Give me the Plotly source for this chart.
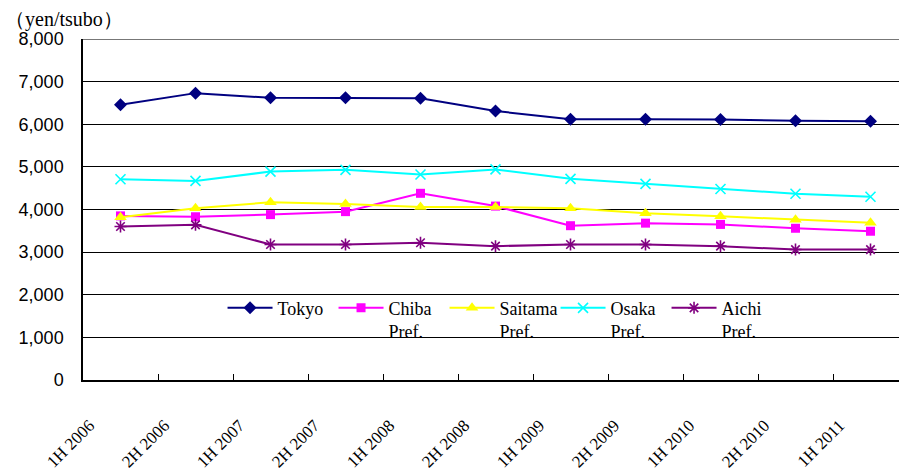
import plotly.graph_objects as go

# Half-year periods (category axis)
periods = ["1H 2006", "2H 2006", "1H 2007", "2H 2007", "1H 2008", "2H 2008",
           "1H 2009", "2H 2009", "1H 2010", "2H 2010", "1H 2011"]

# Average rent, yen per tsubo
tokyo = [6460, 6730, 6620, 6620, 6610, 6310, 6120, 6120, 6110, 6080, 6070]
chiba = [3850, 3830, 3880, 3950, 4380, 4080, 3620, 3680, 3650, 3560, 3490]
saitama = [3820, 4030, 4170, 4130, 4060, 4060, 4030, 3910, 3840, 3760, 3690]
osaka = [4710, 4670, 4890, 4930, 4820, 4940, 4720, 4600, 4480, 4370, 4300]
aichi = [3600, 3640, 3180, 3180, 3220, 3140, 3180, 3180, 3140, 3060, 3060]

y_ticks = [0, 1000, 2000, 3000, 4000, 5000, 6000, 7000, 8000]

series = [
    ("Tokyo", tokyo, "#000080", dict(symbol="diamond", size=10)),
    ("Chiba<br>Pref.", chiba, "#FF00FF", dict(symbol="square", size=9)),
    ("Saitama<br>Pref.", saitama, "#FFFF00", dict(symbol="triangle-up", size=11)),
    ("Osaka<br>Pref.", osaka, "#00FFFF", dict(symbol="x-thin", size=10,
                                             line=dict(width=1.6, color="#00FFFF"))),
    ("Aichi<br>Pref.", aichi, "#800080", dict(symbol="asterisk", size=10,
                                             line=dict(width=1.6, color="#800080"))),
]

SERIF = "Liberation Serif"
SANS = "Liberation Sans"

fig = go.Figure()
for name, vals, color, marker in series:
    fig.add_trace(go.Scatter(
        x=periods, y=vals, name=name, mode="lines+markers",
        line=dict(color=color, width=2),
        marker=dict(color=color, **marker),
    ))

fig.update_layout(
    width=899, height=472,
    margin=dict(l=83, r=0, t=39, b=92, autoexpand=False),
    paper_bgcolor="white", plot_bgcolor="white",
    showlegend=True,
    legend=dict(
        orientation="h", x=0.171, xanchor="left", y=0.265, yanchor="top",
        font=dict(family=SERIF, size=18, color="black"),
        bgcolor="rgba(0,0,0,0)", borderwidth=0,
        entrywidth=51, entrywidthmode="pixels", itemwidth=45,
        valign="top", tracegroupgap=0,
    ),
    annotations=[dict(
        text="（yen/tsubo）", x=0, y=1, xref="paper", yref="paper",
        xanchor="left", yanchor="bottom", showarrow=False,
        font=dict(family=SERIF, size=20, color="black"),
        xshift=-80, yshift=6,
    )],
    shapes=[dict(type="line", xref="paper", yref="y", x0=0, x1=1, y0=8000, y1=8000,
                 line=dict(color="#777777", width=2), layer="above")],
)

fig.update_xaxes(
    type="category", range=[-0.5, 10.38], automargin=False,
    tickson="boundaries", ticks="inside", ticklen=6, tickcolor="black",
    showline=True, linecolor="black", linewidth=1.5,
    showgrid=False, tickangle=-45,
    ticklabelshift=-31, ticklabelstandoff=27,
    tickfont=dict(family=SERIF, size=17, color="black"),
)
fig.update_yaxes(
    range=[0, 8000], tickvals=y_ticks, tickformat=",", automargin=False,
    showgrid=True, gridcolor="black", gridwidth=1,
    showline=True, linecolor="black", linewidth=1.5,
    zeroline=False, ticks="", ticklabelstandoff=14,
    tickfont=dict(family=SANS, size=18, color="black"),
)

fig.write_html("out.html")
